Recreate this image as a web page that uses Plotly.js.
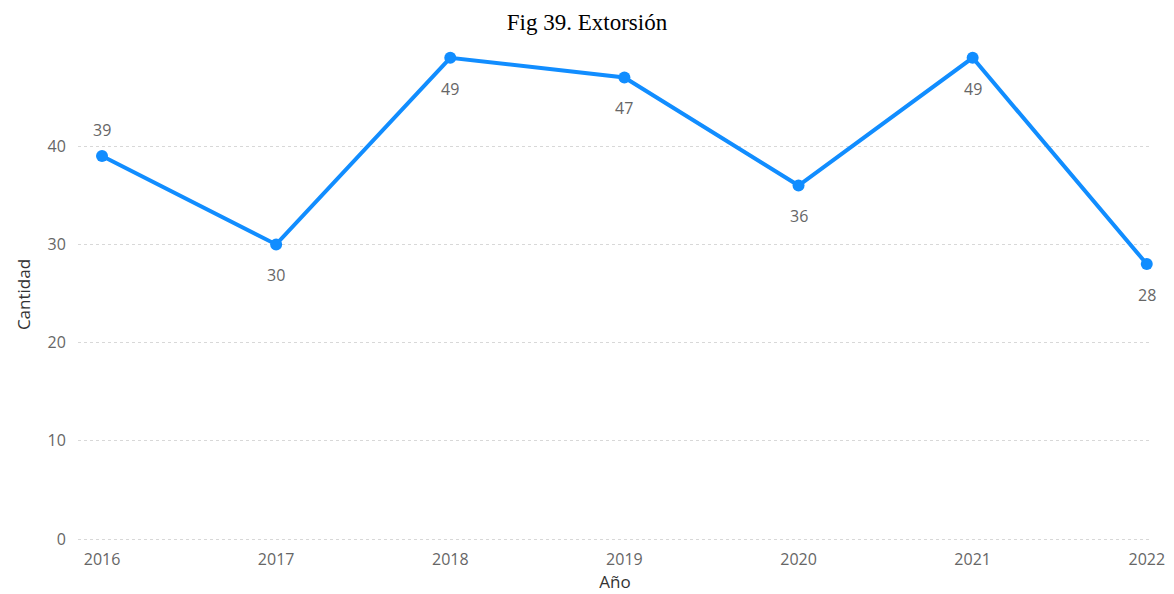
<!DOCTYPE html>
<html><head><meta charset="utf-8">
<script src="https://cdn.plot.ly/plotly-3.0.1.min.js"></script>
<style>html,body{margin:0;padding:0;background:#fff}#c{width:1174px;height:594px}</style>
</head><body><div id="c"></div>
<script>
const years = [2016, 2017, 2018, 2019, 2020, 2021, 2022];
const counts = [39, 30, 49, 47, 36, 49, 28];
const labelAbove = [true, false, false, false, false, false, false];
const yTicks = [0, 10, 20, 30, 40];

const trace = {
  x: years, y: counts, type: 'scatter', mode: 'lines+markers',
  line: {color: '#118DFF', width: 4},
  marker: {color: '#118DFF', size: 12},
  cliponaxis: false, hoverinfo: 'x+y'
};
const annotations = years.map((yr, i) => ({
  x: yr, y: counts[i], xref: 'x', yref: 'y', text: String(counts[i]),
  showarrow: false, yshift: labelAbove[i] ? 26 : -31,
  font: {family: 'Open Sans, sans-serif', size: 16, color: '#666666'}
}));
const layout = {
  width: 1174, height: 594,
  margin: {l: 78, r: 22, t: 48, b: 53},
  paper_bgcolor: '#fff', plot_bgcolor: '#fff',
  showlegend: false,
  annotations: annotations,
  title: {text: 'Fig 39. Extorsión', x: 0.5, xanchor: 'center', y: 0.977, yanchor: 'top',
          font: {family: 'Liberation Serif, serif', size: 23, color: '#000'}},
  xaxis: {range: [2015.862, 2022.03], tickvals: years, ticktext: years.map(String),
          showgrid: false, zeroline: false, showline: false,
          ticks: 'outside', ticklen: 4, tickcolor: 'rgba(0,0,0,0)',
          tickfont: {family: 'Open Sans, sans-serif', size: 16, color: '#666666'},
          title: {text: 'Año', standoff: 6, font: {family: 'Open Sans, sans-serif', size: 17, color: '#333333'}}},
  yaxis: {range: [-0.2, 50], tickvals: yTicks, showgrid: true, gridcolor: '#d8d8d8', griddash: 'dot', gridwidth: 1,
          zeroline: false, showline: false,
          ticks: 'outside', ticklen: 8, tickcolor: 'rgba(0,0,0,0)',
          tickfont: {family: 'Open Sans, sans-serif', size: 16, color: '#666666'},
          title: {text: 'Cantidad', standoff: 12, font: {family: 'Open Sans, sans-serif', size: 17, color: '#333333'}}}
};
Plotly.newPlot('c', [trace], layout, {displayModeBar: false, staticPlot: true});
</script></body></html>
